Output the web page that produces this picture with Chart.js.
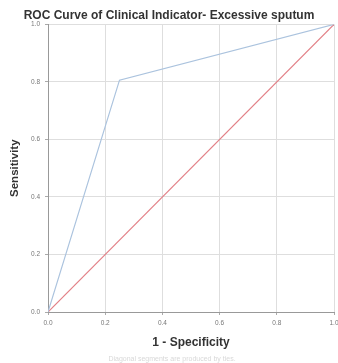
<!DOCTYPE html>
<html><head><meta charset="utf-8">
<script src="https://cdn.jsdelivr.net/npm/chart.js@4"></script>
<style>html,body{margin:0;padding:0;background:#fff}#wrap{width:338px;height:363px}</style>
</head><body><div id="wrap"><canvas id="c" width="338" height="363"></canvas></div>
<script>
const titleText = "ROC Curve of Clinical Indicator- Excessive sputum";
const xTitle = "1 - Specificity";
const yTitle = "Sensitivity";
const footnote = "Diagonal segments are produced by ties.";
const rocX = [0, 0.25, 1];
const rocY = [0, 0.806, 1];
const refX = [0, 1];
const refY = [0, 1];

const footPlugin = {
  id: 'foot',
  afterDraw(chart) {
    const ctx = chart.ctx;
    ctx.save();
    ctx.font = '7px Arial, "Liberation Sans", sans-serif';
    ctx.fillStyle = '#d8d8d8';
    ctx.textAlign = 'center';
    ctx.textBaseline = 'middle';
    ctx.fillText(footnote, 172, 359);
    ctx.restore();
  }
};

new Chart(document.getElementById('c'), {
  type: 'scatter',
  data: {
    datasets: [
      { data: rocX.map((x, i) => ({x, y: rocY[i]})), showLine: true, borderColor: '#abc3de', borderWidth: 1.2, pointRadius: 0, tension: 0 },
      { data: refX.map((x, i) => ({x, y: refY[i]})), showLine: true, borderColor: '#e27f86', borderWidth: 1.2, pointRadius: 0, tension: 0 }
    ]
  },
  options: {
    responsive: false,
    animation: false,
    layout: { padding: { left: 0, right: 0, top: 0, bottom: 12 } },
    plugins: {
      legend: { display: false },
      tooltip: { enabled: false },
      title: { display: true, text: titleText, color: '#333', font: { family: 'Arial, "Liberation Sans", sans-serif', size: 12, weight: 'bold' }, padding: { top: 8, bottom: 2 } }
    },
    scales: {
      x: {
        type: 'linear', min: 0, max: 1,
        ticks: { stepSize: 0.2, callback: v => v.toFixed(1), color: '#777', font: { family: 'Arial, sans-serif', size: 6.5 }, padding: 4, maxRotation: 0 },
        grid: { color: '#dedede', tickLength: 3, tickColor: '#aaa' },
        border: { color: '#999', width: 1 },
        title: { display: true, text: xTitle, color: '#333', font: { family: 'Arial, "Liberation Sans", sans-serif', size: 12, weight: 'bold' }, padding: { top: 0, bottom: 1 } },
        afterFit(s) { s.height = 39; s.paddingRight = 4; s.paddingLeft = 0; }
      },
      y: {
        type: 'linear', min: 0, max: 1,
        ticks: { stepSize: 0.2, callback: v => v.toFixed(1), color: '#777', font: { family: 'Arial, sans-serif', size: 6.5 }, padding: 5 },
        grid: { color: '#dedede', tickLength: 3, tickColor: '#aaa' },
        border: { color: '#999', width: 1 },
        title: { display: true, text: yTitle, color: '#333', font: { family: 'Arial, "Liberation Sans", sans-serif', size: 11.5, weight: 'bold' }, padding: { top: 8, bottom: 0 } },
        afterFit(s) { s.width = 48; }
      }
    }
  },
  plugins: [footPlugin]
});
</script></body></html>
